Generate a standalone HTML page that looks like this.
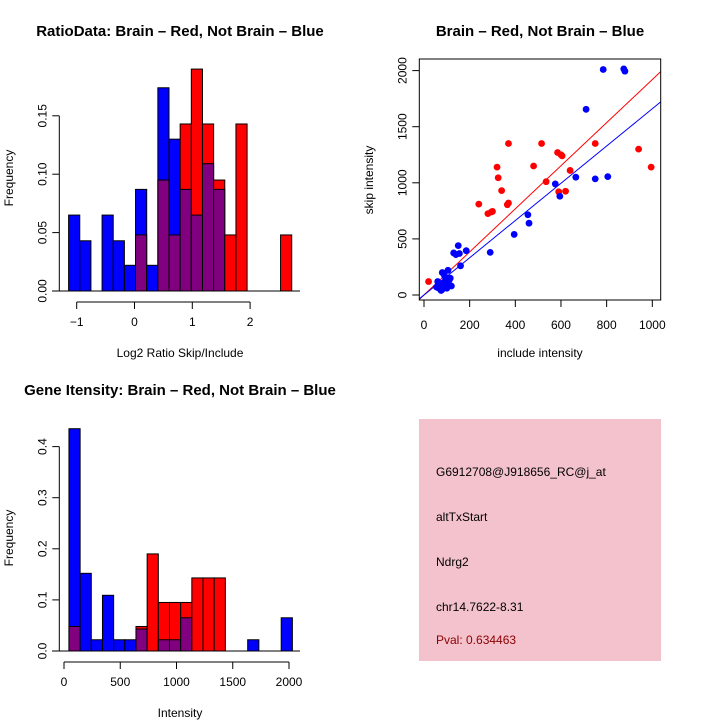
<!DOCTYPE html>
<html><head><meta charset="utf-8">
<style>
body{margin:0;background:#fff;}
svg{display:block;font-family:"Liberation Sans",Arial,sans-serif;}
text{font-size:12px;fill:#000;}
.title{font-size:15px;font-weight:bold;}
</style></head>
<body>
<svg id="chart" width="720" height="720" viewBox="0 0 720 720">
<rect width="720" height="720" fill="#fff"/>
<g id="p1"></g>
<g id="p2"></g>
<g id="p3"></g>
<g id="p4">
<rect x="419" y="419" width="242" height="242" fill="#f3c2cd"/>
<text x="436" y="476">G6912708@J918656_RC@j_at</text>
<text x="436" y="521">altTxStart</text>
<text x="436" y="566">Ndrg2</text>
<text x="436" y="611">chr14.7622-8.31</text>
<text x="436" y="644" fill="#8b0000" style="fill:#8b0000">Pval: 0.634463</text>
</g>
</svg>
<script>
// Ratio histogram data (20 bins)
const ratioBinStart = -1.14;
const ratioBinWidth = 0.193;
const ratioBlue = [0.065,0.043,0,0.065,0.043,0.022,0.087,0.022,0.174,0.130,0.087,0.065,0.109,0.087,0,0,0,0,0,0];
const ratioRed  = [0,0,0,0,0,0,0.048,0,0.095,0.048,0.143,0.190,0.143,0.095,0.048,0.143,0,0,0,0.048];
const ratioXTicks = [-1,0,1,2];
const ratioYTicks = [0,0.05,0.10,0.15];
const ratioYLabels = ["0.00","0.05","0.10","0.15"];

// Intensity histogram data (20 bins)
const intBinStart = 44;
const intBinWidth = 99.3;
const intBlue = [0.435,0.152,0.022,0.109,0.022,0.022,0.043,0,0.022,0.022,0.065,0,0,0,0,0,0.022,0,0,0.065];
const intRed  = [0.048,0,0,0,0,0,0.048,0.190,0.095,0.095,0.095,0.143,0.143,0.143,0,0,0,0,0,0];
const intXTicks = [0,500,1000,1500,2000];
const intYTicks = [0,0.1,0.2,0.3,0.4];
const intYLabels = ["0.0","0.1","0.2","0.3","0.4"];

// Scatter data
const redInclude = [20,240,280,295,300,320,325,340,365,370,370,480,515,535,585,590,600,605,620,640,750,940,995];
const redSkip    = [120,810,725,740,745,1140,1045,930,805,820,1350,1150,1350,1010,1270,920,1250,1240,925,1110,1350,1300,1140];
const blueInclude = [785,875,880,710,665,750,805,575,595,455,460,395,290,150,130,140,155,185,160,105,80,60,70,90,100,80,110,95,75,120,65,85,100,115,55,90,105];
const blueSkip    = [2010,2015,1995,1655,1050,1035,1055,990,880,715,640,540,380,440,375,360,370,395,260,220,200,120,100,80,60,50,130,140,40,80,60,110,100,150,70,170,90];
const redSlope = 1.92, redIntercept = 0;
const blueSlope = 1.66, blueIntercept = 0;
const scXTicks = [0,200,400,600,800,1000];
const scYTicks = [0,500,1000,1500,2000];

const NS = "http://www.w3.org/2000/svg";
function mk(parent, tag, attrs, txt){
  const e = document.createElementNS(NS, tag);
  for (const k in attrs) e.setAttribute(k, attrs[k]);
  if (txt !== undefined) e.textContent = txt;
  parent.appendChild(e);
  return e;
}

function histogram(g, o){
  const sx = v => o.x0 + (v - o.xv0) * o.kx;
  const sy = v => o.y0 - v * o.ky;
  for (let i = 0; i < o.blue.length; i++){
    const l = sx(o.start + i*o.width), r = sx(o.start + (i+1)*o.width);
    const b = o.blue[i], rd = o.red[i];
    const mx = Math.max(b, rd), mn = Math.min(b, rd);
    if (mx > 0){
      const bar = mk(g, "rect", {x:l, y:sy(mx), width:r-l, height:sy(0)-sy(mx), fill: b>=rd ? "#0000ff" : "#ff0000", stroke:"#000", "stroke-width":1});
      
      
    }
    if (mn > 0){
      const ov = mk(g, "rect", {x:l, y:sy(mn), width:r-l, height:sy(0)-sy(mn), fill:"#800080", stroke:"#000", "stroke-width":1});
      
      
    }
  }
  const base = mk(g, "line", {x1:52, x2:300, y1:sy(0), y2:sy(0), stroke:"#000"});
  
  
  const xa = mk(g, "g", {});
  
  
  const ay = o.y0 + 11;
  mk(xa, "line", {x1:sx(o.xticks[0]), x2:sx(o.xticks[o.xticks.length-1]), y1:ay, y2:ay, stroke:"#000"});
  o.xticks.forEach(t => {
    mk(xa, "line", {x1:sx(t), x2:sx(t), y1:ay, y2:ay+7, stroke:"#000"});
    const lb = mk(xa, "text", {x:sx(t), y:ay+24, "text-anchor":"middle"}, t < 0 ? "\u2212" + (-t) : String(t));
    
    
  });
  const ya = mk(g, "g", {});
  
  
  const ax = 59.3;
  mk(ya, "line", {x1:ax, x2:ax, y1:sy(o.yticks[0]), y2:sy(o.yticks[o.yticks.length-1]), stroke:"#000"});
  o.yticks.forEach((t, i) => {
    mk(ya, "line", {x1:ax-7, x2:ax, y1:sy(t), y2:sy(t), stroke:"#000"});
    const lb = mk(ya, "text", {x:0, y:0, "text-anchor":"middle", transform:`translate(${ax-13},${sy(t)}) rotate(-90)`}, o.ylabels[i]);
    
    
  });
  const yt = mk(g, "text", {x:0, y:0, "text-anchor":"middle", transform:`translate(13,${o.ymid}) rotate(-90)`}, "Frequency");
  
  
  const xt = mk(g, "text", {x:o.xmid, y:o.xtY, "text-anchor":"middle"}, o.xtitle);
  
  
  const tt = mk(g, "text", {x:o.tX, y:o.tY, "text-anchor":"middle", "class":"title"}, o.title);
  
  
}

histogram(document.getElementById("p1"), {
  blue:ratioBlue, red:ratioRed, start:ratioBinStart, width:ratioBinWidth,
  x0:134.5, xv0:0, kx:57.8, y0:291, ky:1168,
  xticks:ratioXTicks, yticks:ratioYTicks, ylabels:ratioYLabels,
  ymid:178, xmid:180, xtY:357, xtitle:"Log2 Ratio Skip/Include",
  tX:180, tY:36, title:"RatioData: Brain \u2013 Red, Not Brain \u2013 Blue"
});
histogram(document.getElementById("p3"), {
  blue:intBlue, red:intRed, start:intBinStart, width:intBinWidth,
  x0:64, xv0:0, kx:0.1125, y0:651, ky:511,
  xticks:intXTicks, yticks:intYTicks, ylabels:intYLabels,
  ymid:538, xmid:180, xtY:717, xtitle:"Intensity",
  tX:180, tY:395, title:"Gene Itensity: Brain \u2013 Red, Not Brain \u2013 Blue"
});

(function(){
  const g = document.getElementById("p2");
  const sx = v => 424 + v * 0.2283;
  const sy = v => 295 - v * 0.1122;
  const L = 419.3, R = 660.7, T = 59, B = 300;
  const clip = mk(g, "clipPath", {id:"scClip"});
  mk(clip, "rect", {x:L, y:T, width:R-L, height:B-T});
  const xmin = (L-424)/0.2283, xmax = (R-424)/0.2283;
  [[redSlope, redIntercept, "#ff0000", "fit-line-red"], [blueSlope, blueIntercept, "#0000ff", "fit-line-blue"]].forEach(([s, b, c, n]) => {
    const ln = mk(g, "line", {x1:sx(xmin), y1:sy(s*xmin+b), x2:sx(xmax), y2:sy(s*xmax+b), stroke:c, "clip-path":"url(#scClip)"});
    
    
  });
  redInclude.forEach((v, i) => {
    const p = mk(g, "circle", {cx:sx(v), cy:sy(redSkip[i]), r:3.4, fill:"#ff0000"});
    
    
  });
  blueInclude.forEach((v, i) => {
    const p = mk(g, "circle", {cx:sx(v), cy:sy(blueSkip[i]), r:3.4, fill:"#0000ff"});
    
    
  });
  const fr = mk(g, "rect", {x:L, y:T, width:R-L, height:B-T, fill:"none", stroke:"#000"});
  
  
  scXTicks.forEach(t => {
    mk(g, "line", {x1:sx(t), x2:sx(t), y1:B, y2:B+7, stroke:"#000"});
    const lb = mk(g, "text", {x:sx(t), y:B+29, "text-anchor":"middle"}, String(t));
    
    
  });
  scYTicks.forEach(t => {
    mk(g, "line", {x1:L-7, x2:L, y1:sy(t), y2:sy(t), stroke:"#000"});
    const lb = mk(g, "text", {x:0, y:0, "text-anchor":"middle", transform:`translate(${L-13},${sy(t)}) rotate(-90)`}, String(t));
    
    
  });
  const xt = mk(g, "text", {x:540, y:357, "text-anchor":"middle"}, "include intensity");
  
  
  const yt = mk(g, "text", {x:0, y:0, "text-anchor":"middle", transform:"translate(373,180) rotate(-90)"}, "skip intensity");
  
  
  const tt = mk(g, "text", {x:540, y:36, "text-anchor":"middle", "class":"title"}, "Brain \u2013 Red, Not Brain \u2013 Blue");
  
  
})();
</script>
</body></html>
